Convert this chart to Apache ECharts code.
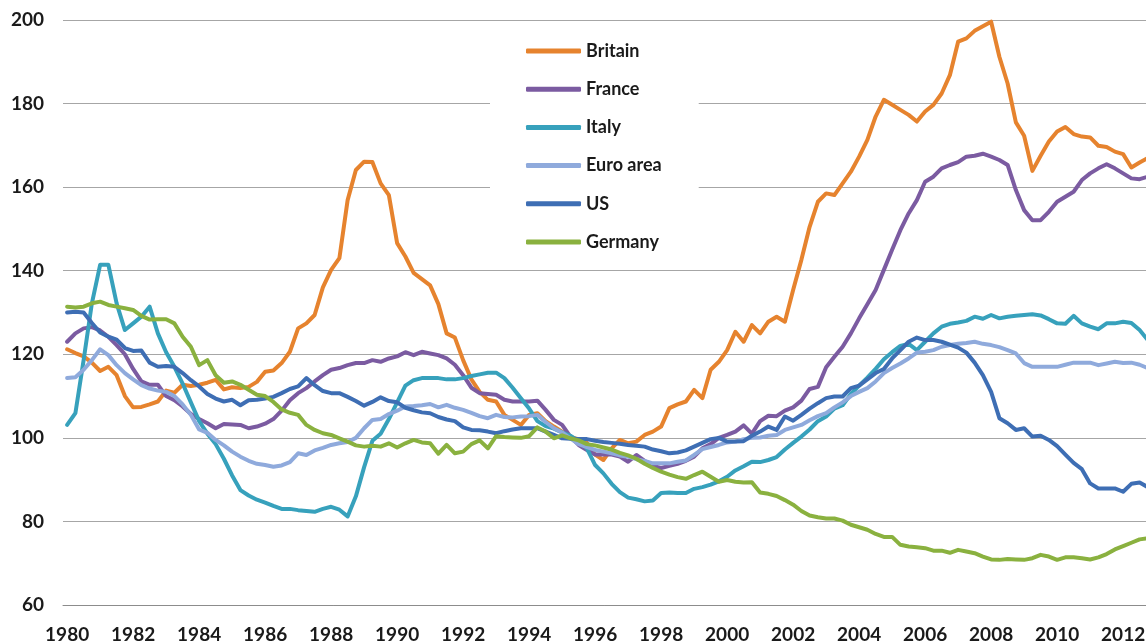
<!DOCTYPE html>
<html><head><meta charset="utf-8">
<script src="https://cdn.jsdelivr.net/npm/echarts@6/dist/echarts.min.js"></script>
<style>html,body{margin:0;padding:0;background:#fff}#c{width:1146px;height:642px}</style>
</head><body><div id="c"></div>
<script>
const years = [1980,1981,1982,1983,1984,1985,1986,1987,1988,1989,1990,1991,1992,1993,1994,1995,1996,1997,1998,1999,2000,2001,2002,2003,2004,2005,2006,2007,2008,2009,2010,2011,2012];
const quarters = ['Q1','Q2','Q3','Q4'];

const britain = [
121.2,120.3,119.5,118, 116,117,115,110, 107.3,107.4,108,108.7, 111.3,110.8,112.7,112.4,
112.7,113.2,113.9,111.6, 112.1,111.9,112.2,113.4, 115.8,116.1,117.9,120.6, 126.2,127.4,129.4,136,
140.2,143,156.9,164.1, 166.1,166,160.9,158.1, 146.6,143.4,139.5,138, 136.5,132,125,124,
118.6,114,111,109.1, 108.7,105.5,104.3,103.1, 105.5,105.9,104,102.7, 101.5,100.2,99.6,98.8,
96,94.7,97.5,99.5, 98.7,99.1,100.7,101.5, 102.7,107.1,108,108.7, 111.5,109.5,116.3,118.2,
121,125.4,123,127, 125,127.8,129,127.8, 135.4,142.6,150.5,156.5, 158.5,158.1,160.9,163.7,
167.3,171.3,176.9,180.9, 179.7,178.5,177.3,175.7, 178.1,179.7,182.4,186.8, 194.8,195.6,197.4,198.5,
199.6,191.2,184.8,175.5, 172.3,163.9,167.5,170.9, 173.3,174.4,172.7,172.1, 171.9,169.9,169.6,168.5,
167.9,164.7,165.9,167];

const france = [
123,125,126.2,126.5, 125.7,124.2,122.2,120, 116.5,113.5,112.7,112.7, 110,109,107.5,105.7,
104.5,103.5,102.3,103.3, 103.2,103.1,102.3,102.7, 103.4,104.5,106.5,109, 110.7,111.9,113.5,115,
116.3,116.7,117.4,117.9, 117.9,118.6,118.2,119, 119.5,120.5,119.8,120.6, 120.2,119.8,119,117.5,
115,112,110.7,110.5, 110.3,109.1,108.7,108.7, 108.7,108.9,106.7,104.3, 103.1,100.3,98.3,97.1,
96,96,96,95.5, 94.3,95.9,94.5,93.3, 92.8,93.3,93.8,94.5, 95.5,97.5,98.5,100,
100.7,101.5,103,101, 104,105.3,105.2,106.5, 107.3,108.9,111.7,112.2, 116.9,119.4,121.8,125,
128.6,132,135.4,140.2, 145,149.7,153.7,156.9, 161.3,162.5,164.5,165.3, 166,167.3,167.5,168,
167.3,166.5,165.3,159.3, 154.5,152.1,152.1,154.1, 156.5,157.7,158.9,161.7, 163.3,164.5,165.5,164.5,
163.3,162.1,161.9,162.5];

const italy = [
103.1,105.9,118.6,132.2, 141.4,141.4,132.2,125.8, 127.4,129,131.4,125, 120.5,117,113,108.5,
104,101,98.5,95, 91,87.5,86.2,85.2, 84.5,83.7,83,83, 82.7,82.5,82.3,83,
83.5,82.8,81.2,86, 93,99.3,101,104.5, 108.5,112.5,113.8,114.3, 114.3,114.3,114,114,
114.3,114.8,115.2,115.6, 115.6,114.3,112,109.5, 107,104,102.8,102.2, 101.3,100.5,99.2,97.5,
93.5,91.5,89,87, 85.7,85.3,84.8,85, 86.8,86.9,86.8,86.8, 87.8,88.2,88.8,89.6,
90.7,92.2,93.2,94.3, 94.2,94.7,95.4,97.2, 98.8,100.3,102,104, 105.1,107,107.8,110.5,
112.5,114.4,116.5,118.8, 120.5,122,122.5,121, 123,125,126.6,127.3, 127.6,128,129,128.5,
129.4,128.6,129,129.2, 129.4,129.6,129.3,128.4, 127.4,127.3,129.2,127.4, 126.6,126,127.4,127.4,
127.8,127.5,125.8,123.4];

const euroArea = [
114.3,114.5,116.3,118.6, 121.2,119.8,117.4,115.5, 114,112.6,111.8,111.3, 111,110,108,105.5,
102,101.2,99.5,98.2, 96.7,95.5,94.5,93.8, 93.5,93.1,93.4,94.2, 96.3,95.9,97,97.6,
98.3,98.7,99,100, 102.3,104.3,104.5,105.7, 106.5,107.5,107.6,107.8, 108.1,107.3,107.9,107.2,
106.7,106,105.2,104.7, 105.5,105,104.9,105.1, 105.2,105.5,103.8,102.3, 101.3,99.9,98.5,97.8,
97.1,96.7,96.3,95.8, 95.5,94.9,94.5,93.9, 93.9,93.9,94.3,94.6, 95.9,97.3,97.8,98.3,
98.9,99.1,99.7,100, 100.1,100.5,100.7,101.9, 102.5,103.1,104.2,105.2, 105.9,107.3,108.5,110,
111,111.9,113.5,115.5, 116.7,117.8,119,120.4, 120.6,121,121.8,122.2, 122.5,122.7,123,122.5,
122.2,121.7,121,120.2, 117.9,117,117,117, 117,117.5,118,118, 118,117.4,117.8,118.2,
117.9,118,117.5,116.7];

const us = [
130,130.2,130,127.5, 125.2,124.2,123.5,121.5, 120.8,120.9,118,117, 117.2,117,115.5,113.8,
112.3,110.5,109.4,108.7, 109.1,107.8,109,109.1, 109.4,109.8,110.7,111.7, 112.3,114.3,112.6,111.2,
110.7,110.7,109.8,108.8, 107.7,108.6,109.7,108.8, 108.5,107.2,106.6,106.1, 105.9,105,104.4,104,
102.5,101.9,101.8,101.5, 101.1,101.6,102,102.3, 102.3,102.3,101.5,100.7, 99.9,99.8,99.7,99.7,
99.3,99,98.8,98.6, 98.3,98.1,97.9,97.2, 96.8,96.3,96.5,97, 97.9,98.8,99.7,100,
99.1,99.1,99.2,100.5, 101.5,102.7,101.9,105.1, 104.1,105.5,107,108.3, 109.5,109.9,109.9,111.9,
112.5,114,115.5,116.5, 119,121,123,124, 123.4,123.4,123,122.3, 121.6,120.4,118,115,
111,104.7,103.5,101.9, 102.3,100.3,100.5,99.5, 98,96,94,92.5, 89.1,87.9,87.9,87.9,
87.1,89,89.3,88.2];

const germany = [
131.4,131.2,131.4,132.2, 132.6,131.8,131.4,131, 130.6,129.2,128.3,128.4, 128.4,127.4,124.2,121.8,
117.4,118.6,115,113.2, 113.5,112.7,111.5,110.3, 110,108.6,106.8,106, 105.5,103.1,101.9,101.1,
100.7,99.9,99.1,98.2, 97.9,98.1,97.9,98.7, 97.7,98.7,99.5,98.9, 98.7,96.2,98.3,96.3,
96.7,98.5,99.4,97.5, 100.4,100.2,100.1,100, 100.4,102.5,101.5,99.9, 100.6,99.9,99.4,98.5,
98.2,97.7,97.2,96.4, 95.8,95,93.8,92.8, 91.9,91.2,90.6,90.2, 91.1,91.9,90.7,89.5,
89.9,89.5,89.3,89.4, 86.9,86.6,86.1,85.1, 84,82.5,81.4,81, 80.7,80.7,80.2,79.2,
78.6,78,77,76.3, 76.3,74.4,74,73.8, 73.6,73,73,72.5, 73.2,72.8,72.4,71.6,
70.9,70.8,71,70.9, 70.8,71.2,72,71.6, 70.8,71.4,71.4,71.2, 70.9,71.4,72.2,73.3,
74.1,74.9,75.7,76];

const seriesNames = ['Britain','France','Italy','Euro area','US','Germany'];
const seriesColors = ['#E6832E','#7B5BA1','#37A1BC','#8FAADC','#3E6EB4','#8AB13F'];
const seriesData = [britain, france, italy, euroArea, us, germany];

const categories = [];
years.forEach(y => quarters.forEach(q => categories.push(y + ' ' + q)));

const font = 'Lato, "DejaVu Sans", sans-serif';
const chart = echarts.init(document.getElementById('c'), null, {renderer: 'canvas'});
chart.setOption({
  animation: false,
  backgroundColor: '#ffffff',
  grid: {left: 63, top: 20, width: 1089, height: 585, containLabel: false, outerBoundsMode: 'none'},
  legend: {
    data: seriesNames,
    orient: 'vertical',
    left: 490, top: 26,
    padding: [15, 37, 15, 36],
    backgroundColor: '#ffffff',
    itemGap: 18.2,
    itemWidth: 55, itemHeight: 5,
    icon: 'roundRect',
    textStyle: {fontFamily: font, fontSize: 18, fontWeight: 'bold', color: '#1a1a1a', lineHeight: 20}
  },
  xAxis: {
    type: 'category', data: categories, boundaryGap: true,
    axisLine: {lineStyle: {color: '#8c8c8c', width: 1}},
    axisTick: {interval: 3, length: 7, lineStyle: {color: '#8c8c8c'}},
    axisLabel: {interval: 7, formatter: v => v.slice(0, 4), margin: 20,
      fontFamily: font, fontSize: 19, fontWeight: 'bold', color: '#1a1a1a'},
    splitLine: {show: false}
  },
  yAxis: {
    type: 'value', min: 60, max: 200, interval: 20,
    axisLine: {show: false}, axisTick: {show: false},
    splitLine: {lineStyle: {color: '#a6a6a6', width: 1}},
    axisLabel: {margin: 19, fontFamily: font, fontSize: 19, fontWeight: 'bold', color: '#1a1a1a'}
  },
  series: seriesNames.map((n, i) => ({
    type: 'line', name: n, data: seriesData[i], symbol: 'none', smooth: false,
    lineStyle: {width: 4, color: seriesColors[i], cap: 'round', join: 'round'},
    itemStyle: {color: seriesColors[i]}
  }))
});
</script></body></html>
